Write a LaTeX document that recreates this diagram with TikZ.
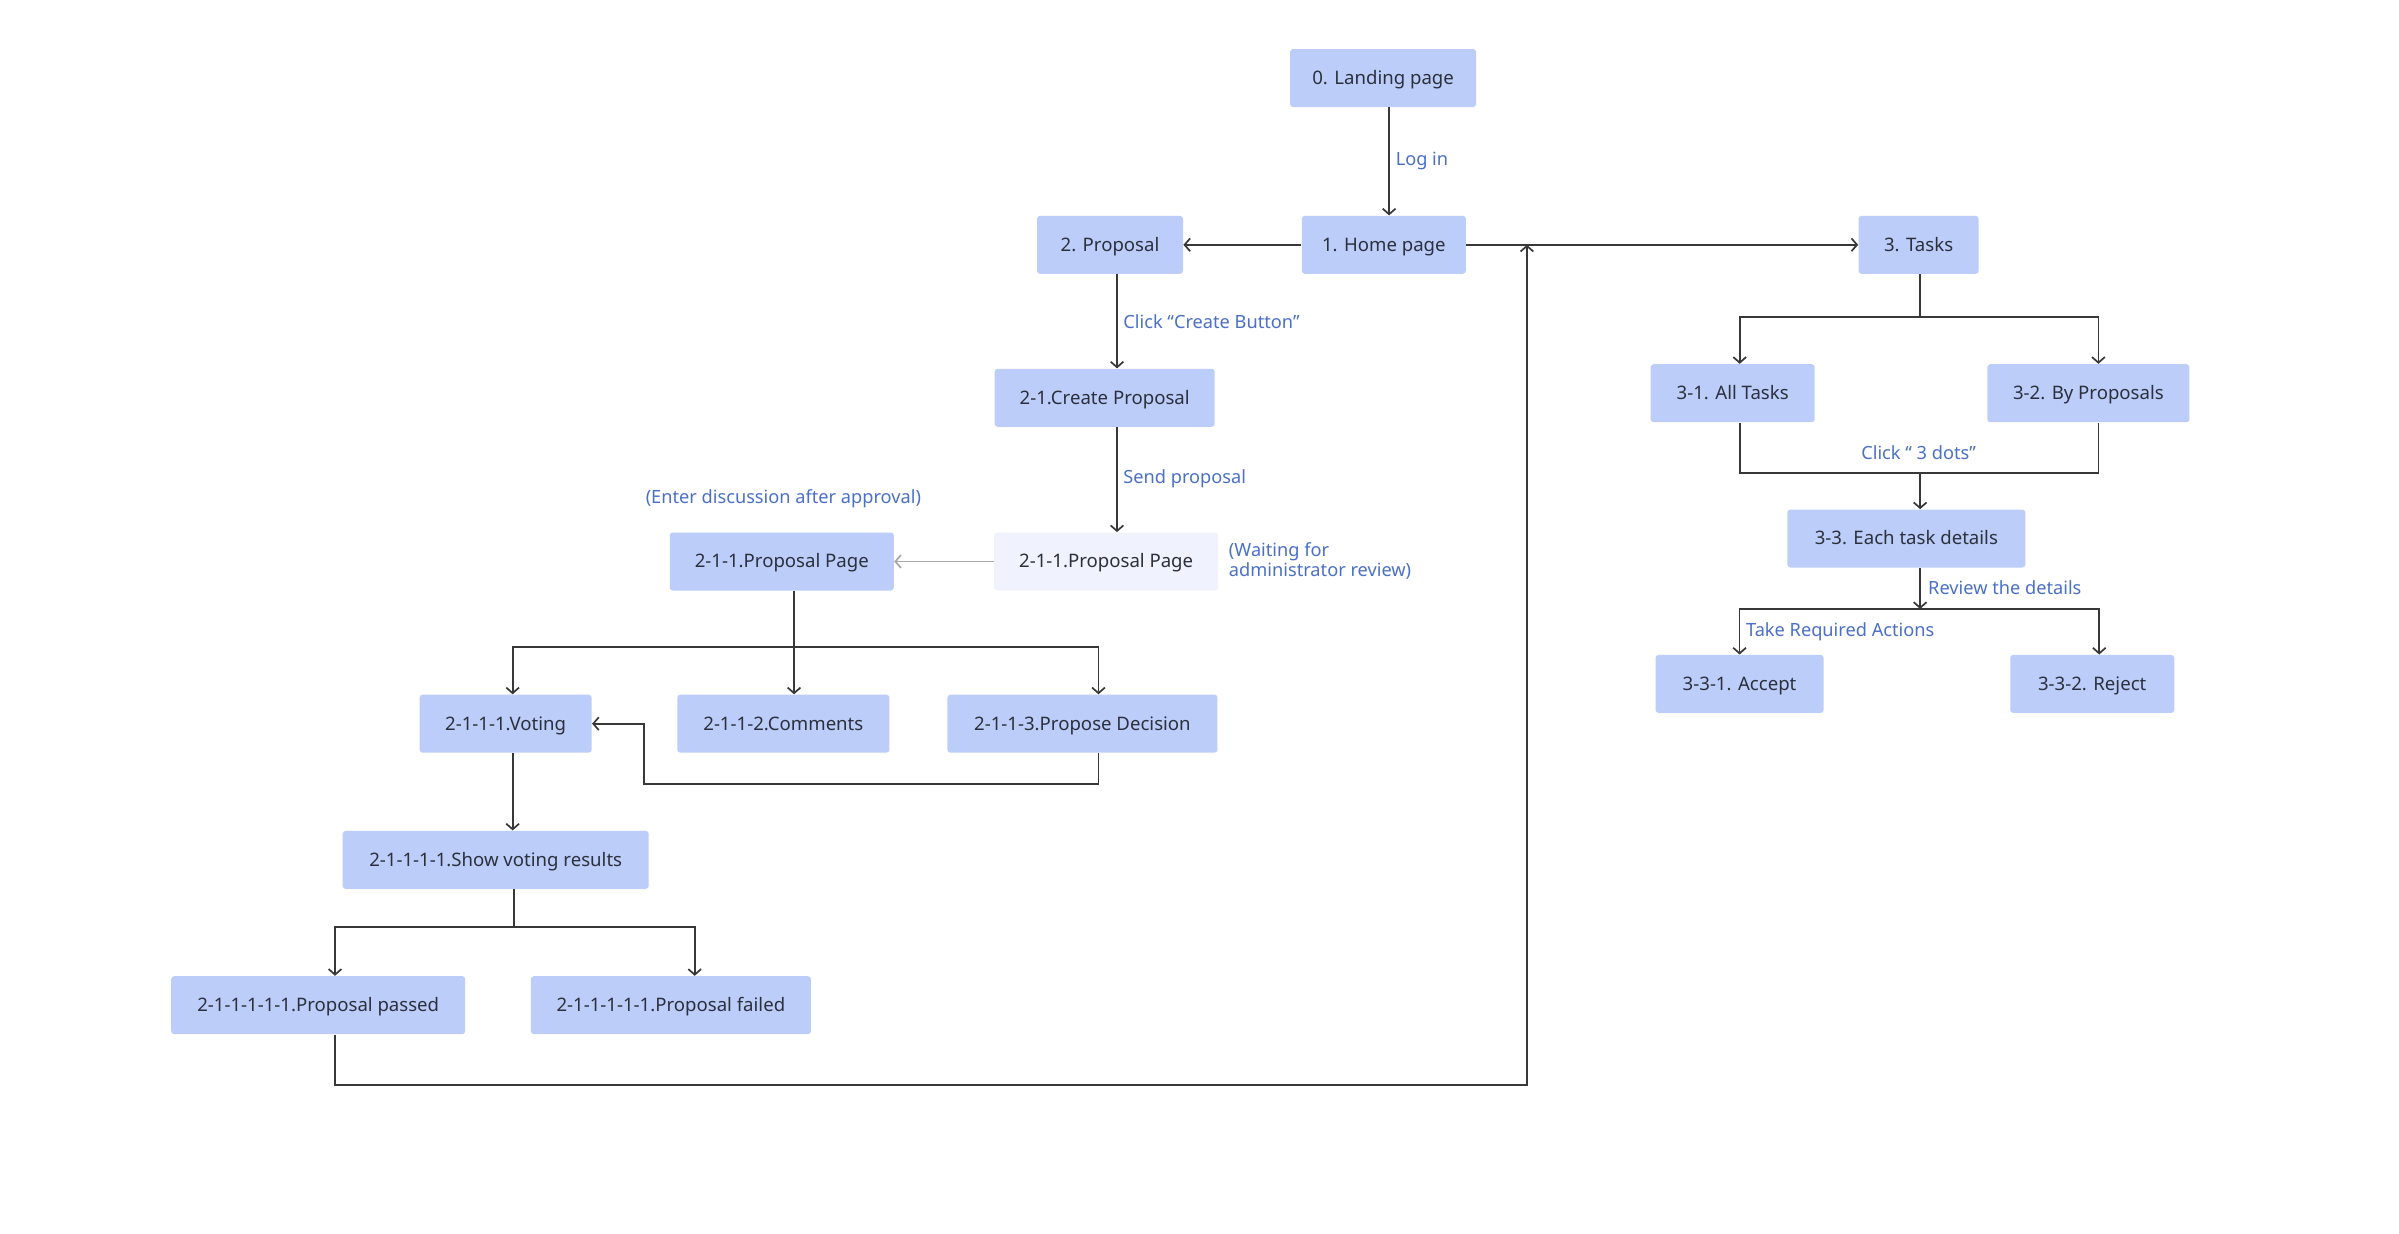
\documentclass[tikz,border=0pt]{standalone}
\usepackage{fontspec}
\setmainfont{Noto Sans}
\usepackage{tikz}
\usetikzlibrary{arrows.meta}
\usetikzlibrary{positioning}

\definecolor{boxblue}{HTML}{BCCDFA}
\definecolor{boxpale}{HTML}{F0F3FD}
\definecolor{textdark}{HTML}{2B303C}
\definecolor{noteblue}{HTML}{4B70C6}
\definecolor{linedark}{HTML}{383838}
\definecolor{linegray}{HTML}{A8A8A8}

\tikzset{
    page/.style={fill=boxblue, rounded corners=1.5pt, text=textdark, minimum height=29pt, inner sep=0pt, text height=7.4pt, text depth=1pt, font=\fontsize{9.3}{11}\selectfont},
    palepage/.style={page, fill=boxpale},
    note/.style={text=noteblue, inner sep=0pt, font=\fontsize{9.1}{10.2}\selectfont},
    link/.style={draw=linedark, line width=0.85pt},
    arr/.style={link, -{Straight Barb[length=2.8pt,width=6.4pt,line width=0.85pt]}},
}

\begin{document}
\begin{tikzpicture}[x=0.765pt,y=-0.765pt]
    \useasboundingbox[fill=white] (0,0) rectangle (1568,806.5);

    \node[page, minimum width=93pt] (landing) at (904,51) {0. Landing page};
    \node[page, minimum width=82pt] (home) at (904.5,160) {1. Home page};
    \node[page, minimum width=73pt] (prop) at (725.5,160) {2. Proposal};
    \node[page, minimum width=60pt] (tasks) at (1254,160) {3. Tasks};
    \node[page, minimum width=110pt] (create) at (722,260) {2-1.Create Proposal};
    \node[palepage, minimum width=112pt] (waiting) at (723,367) {2-1-1.Proposal Page};
    \node[page, minimum width=112pt] (ppage) at (511,367) {2-1-1.Proposal Page};
    \node[page, minimum width=86pt] (vote) at (330.5,473) {2-1-1-1.Voting};
    \node[page, minimum width=106pt] (comm) at (512,473) {2-1-1-2.Comments};
    \node[page, minimum width=135pt] (decide) at (707.5,473) {2-1-1-3.Propose Decision};
    \node[page, minimum width=153pt] (results) at (324,562) {2-1-1-1-1.Show voting results};
    \node[page, minimum width=147pt] (passed) at (208,657) {2-1-1-1-1-1.Proposal passed};
    \node[page, minimum width=140pt] (failed) at (438.5,657) {2-1-1-1-1-1.Proposal failed};
    \node[page, minimum width=82pt] (alltasks) at (1132.5,257) {3-1. All Tasks};
    \node[page, minimum width=101pt] (byprop) at (1365,257) {3-2. By Proposals};
    \node[page, minimum width=119pt] (details) at (1246,352) {3-3. Each task details};
    \node[page, minimum width=84pt] (accept) at (1137,447) {3-3-1. Accept};
    \node[page, minimum width=82pt] (reject) at (1367.5,447) {3-3-2. Reject};

    \node[note, anchor=west] (login) at (912,105) {Log in};
    \node[note, anchor=west] (clickcreate) at (734,210) {Click “Create Button”};
    \node[note, anchor=west] (send) at (734,313) {Send proposal};
    \node[note, anchor=west, align=left] (review) at (803,366.5) {(Waiting for\\administrator review)};
    \node[note] (enter) at (512,326) {(Enter discussion after approval)};
    \node[note] (dots) at (1254,296) {Click “ 3 dots”};
    \node[note, anchor=west] (reviewdet) at (1260,384) {Review the details};
    \node[note, anchor=west] (actions) at (1141,413) {Take Required Actions};

    \coordinate (back) at (998,160);
    \coordinate (pj) at (519,423);
    \coordinate (sj) at (336,606);
    \coordinate (tj) at (1255,207);
    \coordinate (ej) at (1255,309);
    \coordinate (aj) at (1255,398);

    % top row
    \draw[arr] ([xshift=3pt]landing.south) -- ([xshift=3pt]landing.south |- home.north);
    \draw[arr] (home.west) -- (prop.east);
    \draw[arr] (home.east) -- (tasks.west);
    \draw[arr] ([xshift=3.5pt]prop.south) -- ([xshift=3.5pt]prop.south |- create.north);
    \draw[arr] ([xshift=3.5pt]prop.south |- create.south) -- ([xshift=3.5pt]prop.south |- waiting.north);
    \draw[arr, draw=linegray] (waiting.west) -- (ppage.east);

    % proposal page tree
    \draw[arr] (ppage.south -| pj) -- (pj |- comm.north);
    \draw[arr] (pj) -| ([xshift=3.5pt]vote.north);
    \draw[arr] (pj) -| ([xshift=8pt]decide.north);
    \draw[arr] ([xshift=8pt]decide.south) -- ++(0,20) -| ([xshift=26pt]vote.east) -- (vote.east);
    \draw[arr] ([xshift=3.5pt]vote.south) -- ([xshift=3.5pt]vote.south |- results.north);
    \draw[link] (results.south -| sj) -- (sj);
    \draw[arr] (sj) -| ([xshift=8.4pt]passed.north);
    \draw[arr] (sj) -| ([xshift=11.9pt]failed.north);
    \draw[arr] ([xshift=8.4pt]passed.south) -- ++(0,33) -| (back);

    % tasks tree
    \draw[link] (tasks.south -| tj) -- (tj);
    \draw[arr] (tj) -| ([xshift=3.5pt]alltasks.north);
    \draw[arr] (tj) -| ([xshift=5pt]byprop.north);
    \draw[link] ([xshift=3.5pt]alltasks.south) |- (ej) -| ([xshift=5pt]byprop.south);
    \draw[arr] (ej) -- (ej |- details.north);
    \draw[arr] (details.south -| aj) -- (aj);
    \draw[arr] (aj) -| (accept.north);
    \draw[arr] (aj) -| ([xshift=3.5pt]reject.north);
\end{tikzpicture}
\end{document}
